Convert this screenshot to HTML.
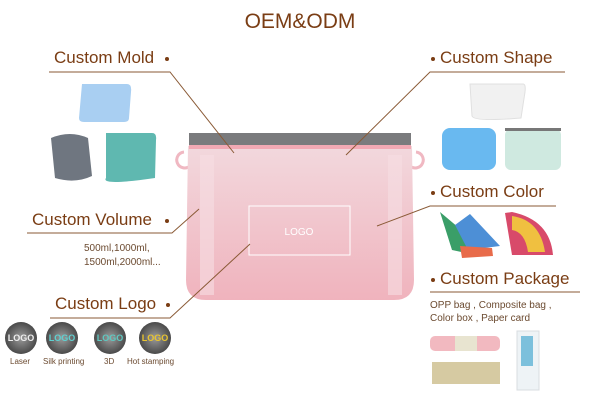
<!DOCTYPE html>
<html><head><meta charset="utf-8"><style>
body{margin:0;width:600px;height:403px;background:#fff;overflow:hidden;position:relative;font-family:"Liberation Sans",sans-serif;}
.t{position:absolute;color:#7a3d14;white-space:nowrap;}
.h{font-size:17px;}
.s{font-size:10px;color:#6b4a30;}
.l{font-size:8px;color:#6b4a30;}
</style></head><body>
<svg width="600" height="403" style="position:absolute;left:0;top:0">
<defs>
<linearGradient id="pk" x1="0" y1="0" x2="0" y2="1"><stop offset="0" stop-color="#f2d8dd"/><stop offset="1" stop-color="#f0b3bd"/></linearGradient>
<radialGradient id="cg"><stop offset="0" stop-color="#9a9a9a"/><stop offset="1" stop-color="#4a4a4a"/></radialGradient>
</defs>
<path d="M184 152 a8 8 0 1 0 6 14" fill="none" stroke="#f0b8c2" stroke-width="3"/>
<path d="M416 152 a8 8 0 1 1 -6 14" fill="none" stroke="#f0b8c2" stroke-width="3"/>
<path d="M188 146 H412 L414 280 Q414 300 394 300 H206 Q186 300 186 280 Z" fill="url(#pk)"/>
<rect x="189" y="133" width="222" height="13" fill="#7a7b7d"/>
<rect x="189" y="145" width="222" height="4" fill="#f2a9b4"/>
<rect x="200" y="155" width="14" height="140" fill="#f6dde2" opacity=".6"/>
<rect x="388" y="155" width="14" height="140" fill="#f6dde2" opacity=".6"/>
<rect x="249" y="206" width="101" height="49" fill="none" stroke="#fff" stroke-width="1"/>
<text x="299" y="235" font-size="10" fill="#fff" text-anchor="middle" font-family="Liberation Sans">LOGO</text>
<g stroke="#8a5a36" stroke-width="1" fill="none">
<polyline points="49,72 170,72 234,153"/>
<polyline points="27,233 172,233 199,209"/>
<polyline points="50,318 170,318 250,244"/>
<polyline points="565,72 430,72 346,155"/>
<polyline points="556,206 430,206 377,226"/>
<line x1="430" y1="292" x2="580" y2="292"/>
</g>
<g fill="#7a3d14">
<circle cx="167" cy="59" r="2"/><circle cx="167" cy="221" r="2"/><circle cx="168" cy="305" r="2"/>
<circle cx="433" cy="59" r="2"/><circle cx="433" cy="193" r="2"/><circle cx="433" cy="280" r="2"/>
</g>
<path d="M82 84 H127 Q132 84 131 92 L129 118 Q129 122 124 122 H84 Q79 122 79 118 Z" fill="#a9cff2"/>
<path d="M51 138 Q70 130 88 138 L92 176 Q75 184 55 178 Z" fill="#6f7680"/>
<path d="M106 133 H152 Q157 133 156 140 L155 178 Q100 186 106 178 Z" fill="#5fb8b0"/>
<path d="M470 84 H523 Q526 84 525 92 L521 118 Q474 122 472 116 Z" fill="#f1f1f1" stroke="#e0e0e0"/>
<rect x="442" y="128" width="54" height="42" rx="8" fill="#69b9f0"/>
<rect x="505" y="129" width="56" height="41" rx="6" fill="#cfe9e0"/>
<rect x="505" y="128" width="56" height="3" fill="#777"/>
<path d="M440 212 L452 250 L480 256 L478 244 Z" fill="#3a9e68"/>
<path d="M455 225 L468 250 L500 246 L470 214 Z" fill="#4d8fd6"/>
<path d="M460 246 L492 248 L493 256 L462 258 Z" fill="#e86b4a"/>
<path d="M505 213 L512 255 L553 255 Q550 220 512 212 Z" fill="#d84a6a"/>
<path d="M512 216 Q540 220 545 252 L528 252 Q525 232 512 230 Z" fill="#f0c040"/>
<g><circle cx="21" cy="338" r="16" fill="url(#cg)"/><circle cx="62" cy="338" r="16" fill="url(#cg)"/><circle cx="110" cy="338" r="16" fill="url(#cg)"/><circle cx="155" cy="338" r="16" fill="url(#cg)"/></g>
<g font-size="9" font-weight="bold" text-anchor="middle" font-family="Liberation Sans">
<text x="21" y="341" fill="#eee">LOGO</text><text x="62" y="341" fill="#5fd0d0">LOGO</text><text x="110" y="341" fill="#5fc8c0">LOGO</text><text x="155" y="341" fill="#e8c430">LOGO</text></g>
<rect x="430" y="336" width="70" height="15" rx="5" fill="#f2b9c0"/>
<rect x="455" y="336" width="22" height="15" fill="#e8e4d0"/>
<rect x="432" y="362" width="68" height="22" fill="#d6caa2"/>
<rect x="517" y="331" width="22" height="59" fill="#eef3f6" stroke="#d8dde0"/>
<rect x="521" y="336" width="12" height="30" fill="#7cc0dc"/>
</svg>
<div class="t" style="left:0;width:600px;text-align:center;top:10px;font-size:21px;">OEM&amp;ODM</div>
<div class="t h" style="left:54px;top:48px">Custom Mold</div>
<div class="t h" style="left:32px;top:210px">Custom Volume</div>
<div class="t h" style="left:55px;top:294px">Custom Logo</div>
<div class="t h" style="left:440px;top:48px">Custom Shape</div>
<div class="t h" style="left:440px;top:182px">Custom Color</div>
<div class="t h" style="left:440px;top:269px">Custom Package</div>
<div class="t s" style="left:84px;top:243px">500ml,1000ml,</div>
<div class="t s" style="left:84px;top:257px">1500ml,2000ml...</div>
<div class="t s" style="left:430px;top:300px">OPP bag , Composite bag ,</div>
<div class="t s" style="left:430px;top:313px">Color box , Paper card</div>
<div class="t l" style="left:10px;top:357px">Laser</div>
<div class="t l" style="left:43px;top:357px">Silk printing</div>
<div class="t l" style="left:104px;top:357px">3D</div>
<div class="t l" style="left:127px;top:357px">Hot stamping</div>
</body></html>
